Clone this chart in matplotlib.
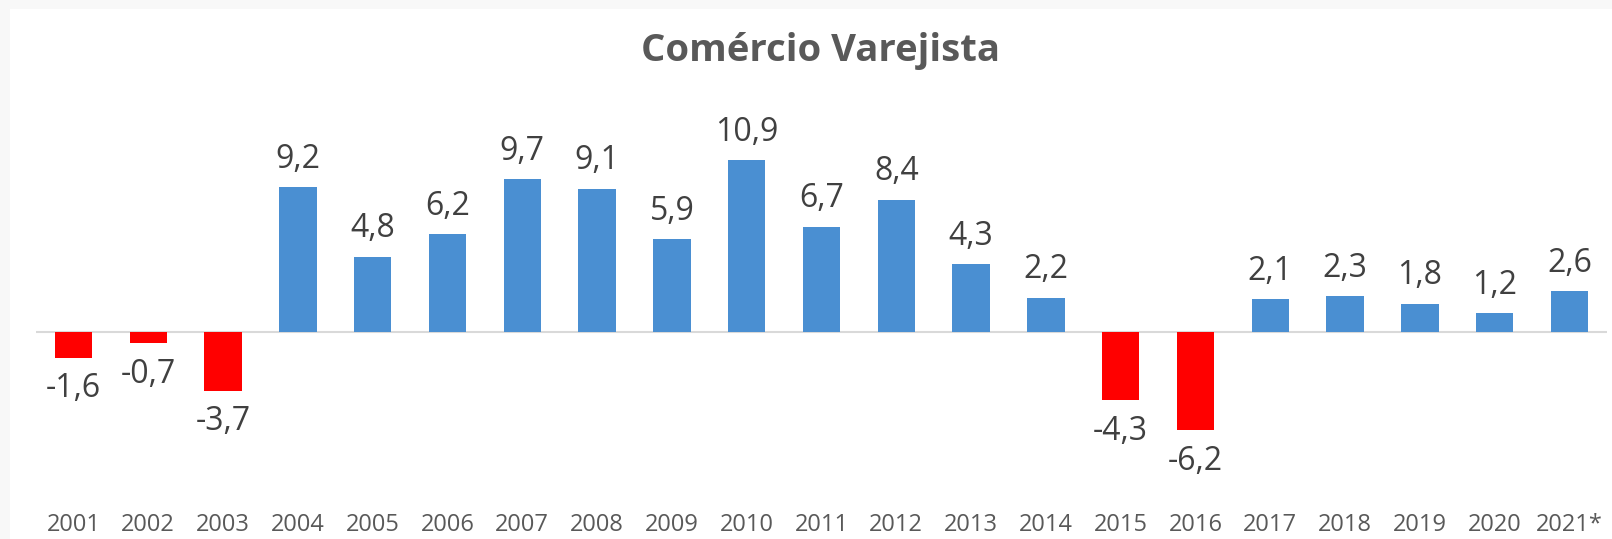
import matplotlib.pyplot as plt
from matplotlib.patches import Rectangle

# dados
anos = ['2001', '2002', '2003', '2004', '2005', '2006', '2007', '2008', '2009', '2010',
        '2011', '2012', '2013', '2014', '2015', '2016', '2017', '2018', '2019', '2020', '2021*']
variacao = [-1.6, -0.7, -3.7, 9.2, 4.8, 6.2, 9.7, 9.1, 5.9, 10.9,
            6.7, 8.4, 4.3, 2.2, -4.3, -6.2, 2.1, 2.3, 1.8, 1.2, 2.6]

AZUL = '#4A8FD2'
VERMELHO = '#FF0000'
CINZA_TXT = '#404040'

plt.rcParams['font.family'] = ['Open Sans', 'DejaVu Sans']

W, H = 1612, 539
fig = plt.figure(figsize=(W / 100, H / 100), dpi=100, facecolor='#f8f8f8')
# area branca do grafico
fig.patches.append(Rectangle((10 / W, 0), 1 - 10 / W, 1 - 9 / H, transform=fig.transFigure,
                             facecolor='white', edgecolor='none', zorder=0))

ax = fig.add_axes([36 / W, (H - 506) / H, 1571 / W, 371 / H])
ax.set_zorder(2)
ax.set_facecolor('none')

x = list(range(len(anos)))
cores = [AZUL if v >= 0 else VERMELHO for v in variacao]
ax.bar(x, variacao, width=0.5, color=cores, edgecolor='none', zorder=2)
ax.axhline(0, color='#d9d9d9', lw=1.5, zorder=1)

for xi, v in zip(x, variacao):
    txt = f'{v:.1f}'.replace('.', ',')
    off = 28 if v >= 0 else -31
    ax.annotate(txt, (xi, v), xytext=(0, off), textcoords='offset pixels',
                ha='center', va='center', fontsize=23, color=CINZA_TXT)

ax.set_xlim(-0.5, len(anos) - 0.5)
ax.set_ylim(-11, 12.5)
ax.set_xticks(x)
ax.set_xticklabels(anos, fontsize=17, color='#595959')
ax.tick_params(axis='x', length=0, pad=5)
ax.set_yticks([])
for s in ax.spines.values():
    s.set_visible(False)

t = fig.text(821 / W, 1 - 51 / H, 'Comércio Varejista', ha='center', va='center',
             fontsize=27.5, fontweight='bold', color='#595959')
t.set_zorder(3)

fig.savefig('out.png', dpi=100, facecolor=fig.get_facecolor())
